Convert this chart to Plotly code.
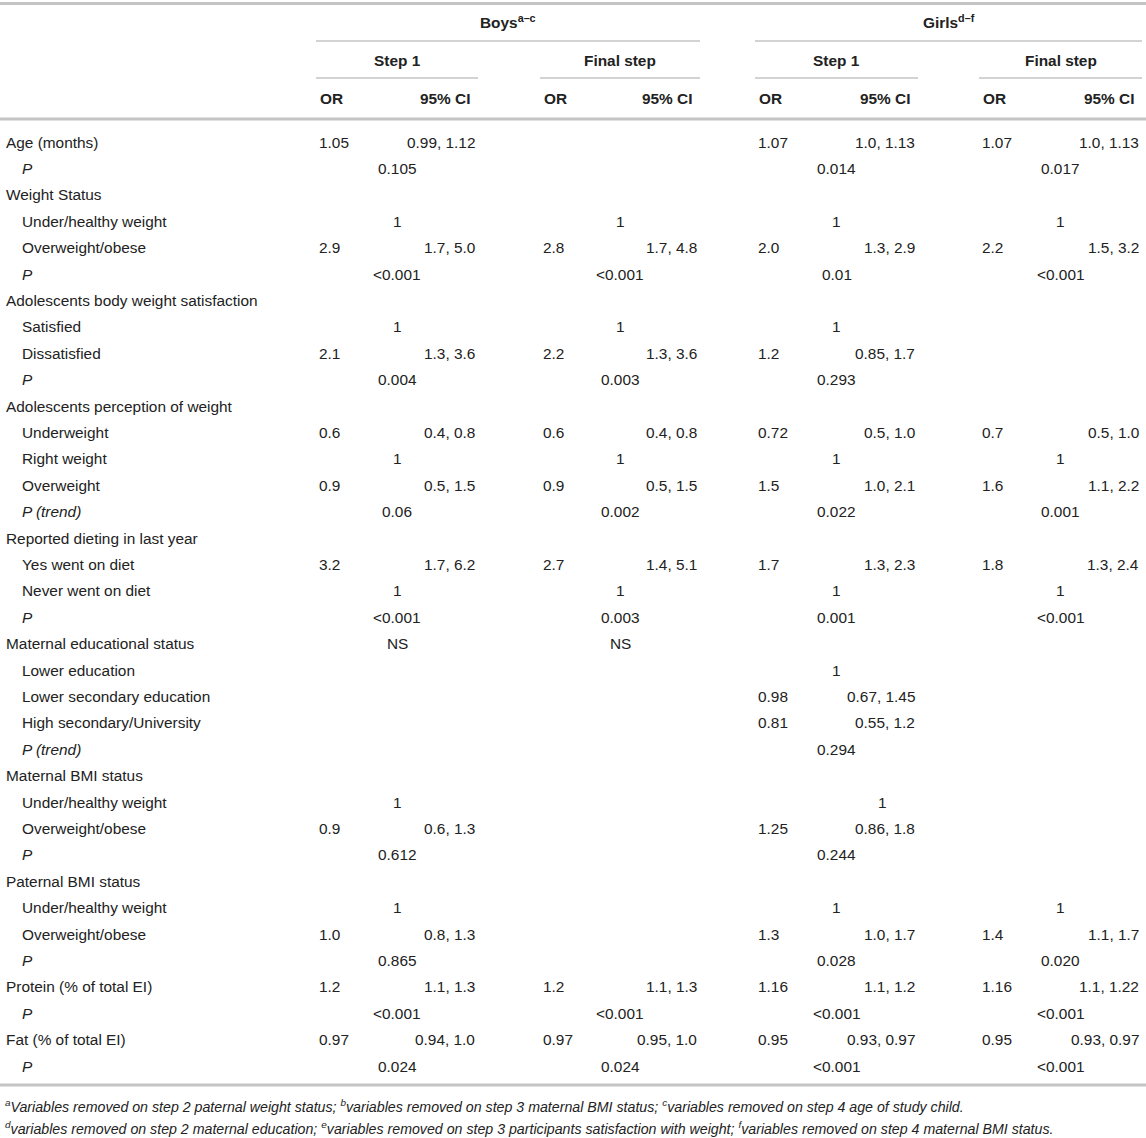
import plotly.graph_objects as go

# row labels (indent: sub rows, italic: P rows)
labels = [
    'Age (months)', 'P', 'Weight Status', 'Under/healthy weight', 'Overweight/obese', 'P',
    'Adolescents body weight satisfaction', 'Satisfied', 'Dissatisfied', 'P',
    'Adolescents perception of weight', 'Underweight', 'Right weight', 'Overweight', 'P (trend)',
    'Reported dieting in last year', 'Yes went on diet', 'Never went on diet', 'P',
    'Maternal educational status', 'Lower education', 'Lower secondary education',
    'High secondary/University', 'P (trend)',
    'Maternal BMI status', 'Under/healthy weight', 'Overweight/obese', 'P',
    'Paternal BMI status', 'Under/healthy weight', 'Overweight/obese', 'P',
    'Protein (% of total EI)', 'P', 'Fat (% of total EI)', 'P',
]
indented = [0, 1, 0, 1, 1, 1, 0, 1, 1, 1, 0, 1, 1, 1, 1, 0, 1, 1, 1, 0, 1, 1, 1, 1,
            0, 1, 1, 1, 0, 1, 1, 1, 0, 1, 0, 1]

groups = ['Boys<sup>a–c</sup>', 'Girls<sup>d–f</sup>']
steps = ['Step 1', 'Final step', 'Step 1', 'Final step']

# OR values per block (boys step 1, boys final, girls step 1, girls final)
or_bs = ['1.05', '', '', '', '2.9', '', '', '', '2.1', '', '', '0.6', '', '0.9', '', '', '3.2', '', '',
         '', '', '', '', '', '', '', '0.9', '', '', '', '1.0', '', '1.2', '', '0.97', '']
or_bf = ['', '', '', '', '2.8', '', '', '', '2.2', '', '', '0.6', '', '0.9', '', '', '2.7', '', '',
         '', '', '', '', '', '', '', '', '', '', '', '', '', '1.2', '', '0.97', '']
or_gs = ['1.07', '', '', '', '2.0', '', '', '', '1.2', '', '', '0.72', '', '1.5', '', '', '1.7', '', '',
         '', '', '0.98', '0.81', '', '', '', '1.25', '', '', '', '1.3', '', '1.16', '', '0.95', '']
or_gf = ['1.07', '', '', '', '2.2', '', '', '', '', '', '', '0.7', '', '1.6', '', '', '1.8', '', '',
         '', '', '', '', '', '', '', '', '', '', '', '1.4', '', '1.16', '', '0.95', '']

# 95% CI values per block
ci_bs = ['0.99, 1.12', '', '', '', '1.7, 5.0', '', '', '', '1.3, 3.6', '', '', '0.4, 0.8', '', '0.5, 1.5', '',
         '', '1.7, 6.2', '', '', '', '', '', '', '', '', '', '0.6, 1.3', '', '', '', '0.8, 1.3', '',
         '1.1, 1.3', '', '0.94, 1.0', '']
ci_bf = ['', '', '', '', '1.7, 4.8', '', '', '', '1.3, 3.6', '', '', '0.4, 0.8', '', '0.5, 1.5', '',
         '', '1.4, 5.1', '', '', '', '', '', '', '', '', '', '', '', '', '', '', '',
         '1.1, 1.3', '', '0.95, 1.0', '']
ci_gs = ['1.0, 1.13', '', '', '', '1.3, 2.9', '', '', '', '0.85, 1.7', '', '', '0.5, 1.0', '', '1.0, 2.1', '',
         '', '1.3, 2.3', '', '', '', '', '0.67, 1.45', '0.55, 1.2', '', '', '', '0.86, 1.8', '', '', '',
         '1.0, 1.7', '', '1.1, 1.2', '', '0.93, 0.97', '']
ci_gf = ['1.0, 1.13', '', '', '', '1.5, 3.2', '', '', '', '', '', '', '0.5, 1.0', '', '1.1, 2.2', '',
         '', '1.3, 2.4', '', '', '', '', '', '', '', '', '', '', '', '', '', '1.1, 1.7', '',
         '1.1, 1.22', '', '0.93, 0.97', '']

# reference categories and P values, centred under each step
mid_bs = ['', '0.105', '', '1', '', '<0.001', '', '1', '', '0.004', '', '', '1', '', '0.06', '', '', '1',
          '<0.001', 'NS', '', '', '', '', '', '1', '', '0.612', '', '1', '', '0.865', '', '<0.001', '', '0.024']
mid_bf = ['', '', '', '1', '', '<0.001', '', '1', '', '0.003', '', '', '1', '', '0.002', '', '', '1',
          '0.003', 'NS', '', '', '', '', '', '', '', '', '', '', '', '', '', '<0.001', '', '0.024']
mid_gs = ['', '0.014', '', '1', '', '0.01', '', '1', '', '0.293', '', '', '1', '', '0.022', '', '', '1',
          '0.001', '', '1', '', '', '0.294', '', '1', '', '0.244', '', '1', '', '0.028', '', '<0.001', '', '<0.001']
mid_gf = ['', '0.017', '', '1', '', '<0.001', '', '', '', '', '', '', '1', '', '0.001', '', '', '1',
          '<0.001', '', '', '', '', '', '', '', '', '', '', '1', '', '0.020', '', '<0.001', '', '<0.001']

footnotes = [
    '<sup>a</sup>Variables removed on step 2 paternal weight status; <sup>b</sup>variables removed on step 3 '
    'maternal BMI status; <sup>c</sup>variables removed on step 4 age of study child.',
    '<sup>d</sup>variables removed on step 2 maternal education; <sup>e</sup>variables removed on step 3 '
    'participants satisfaction with weight; <sup>f</sup>variables removed on step 4 maternal BMI status.',
]

W, H = 1146, 1138
FONT = 'Liberation Sans, Arial, sans-serif'
TXT = '#222222'
LINE = '#c4c4c4'

# block geometry: span left, span right
blocks = [(316, 478), (540, 700), (755, 918), (979, 1142)]
ors = [or_bs, or_bf, or_gs, or_gf]
cis = [ci_bs, ci_bf, ci_gs, ci_gf]
mids = [mid_bs, mid_bf, mid_gs, mid_gf]

row0, dy = 142, 26.4

fig = go.Figure()
ann = []


def txt(x, y, s, anchor='left', size=15.4):
    ann.append(dict(x=x, y=y, xref='x', yref='y', text=s, showarrow=False,
                    xanchor=anchor, yanchor='middle', font=dict(size=size, color=TXT, family=FONT)))


# header
txt((blocks[0][0] + blocks[1][1]) / 2, 21, '<b>' + groups[0] + '</b>', 'center')
txt((blocks[2][0] + blocks[3][1]) / 2, 21, '<b>' + groups[1] + '</b>', 'center')
for (l, r), s in zip(blocks, steps):
    txt((l + r) / 2, 60, '<b>' + s + '</b>', 'center')
    txt(l + 2, 98, '<b>OR</b>')
    txt(r - 6, 98, '<b>95% CI</b>', 'right')

shapes = []


def hline(y, x0, x1, w):
    shapes.append(dict(type='line', xref='x', yref='y', x0=x0, x1=x1, y0=y, y1=y,
                       line=dict(color=LINE, width=w)))


hline(3.5, 0, W, 3)
hline(41, blocks[0][0], blocks[1][1], 1.5)
hline(41, blocks[2][0], blocks[3][1], 1.5)
for l, r in blocks:
    hline(78, l, r, 1.5)
hline(119, 0, W, 3)
hline(1085, 0, W, 3)

# body
for i, lab in enumerate(labels):
    y = row0 + i * dy
    s = '<i>' + lab + '</i>' if lab.startswith('P') and len(lab) < 10 else lab
    txt(20 if indented[i] else 4, y, s)
    for b, (l, r) in enumerate(blocks):
        if ors[b][i]:
            txt(l + 1, y, ors[b][i])
        if cis[b][i]:
            txt(r - 1, y, cis[b][i], 'right')
        if mids[b][i]:
            shift = 46 if (b == 2 and i == 25) else 0
            txt((l + r) / 2 + shift, y, mids[b][i], 'center')

for k, f in enumerate(footnotes):
    txt(3, 1106 + k * 21.5, '<i>' + f + '</i>', size=14.2)

fig.update_layout(
    width=W, height=H,
    margin=dict(l=0, r=0, t=0, b=0),
    paper_bgcolor='white', plot_bgcolor='white',
    xaxis=dict(range=[0, W], visible=False, fixedrange=True),
    yaxis=dict(range=[H, 0], visible=False, fixedrange=True),
    annotations=ann, shapes=shapes,
    showlegend=False,
)
fig.write_html('out.html', config={'displayModeBar': False},
               post_script="document.body.style.margin='0';")
